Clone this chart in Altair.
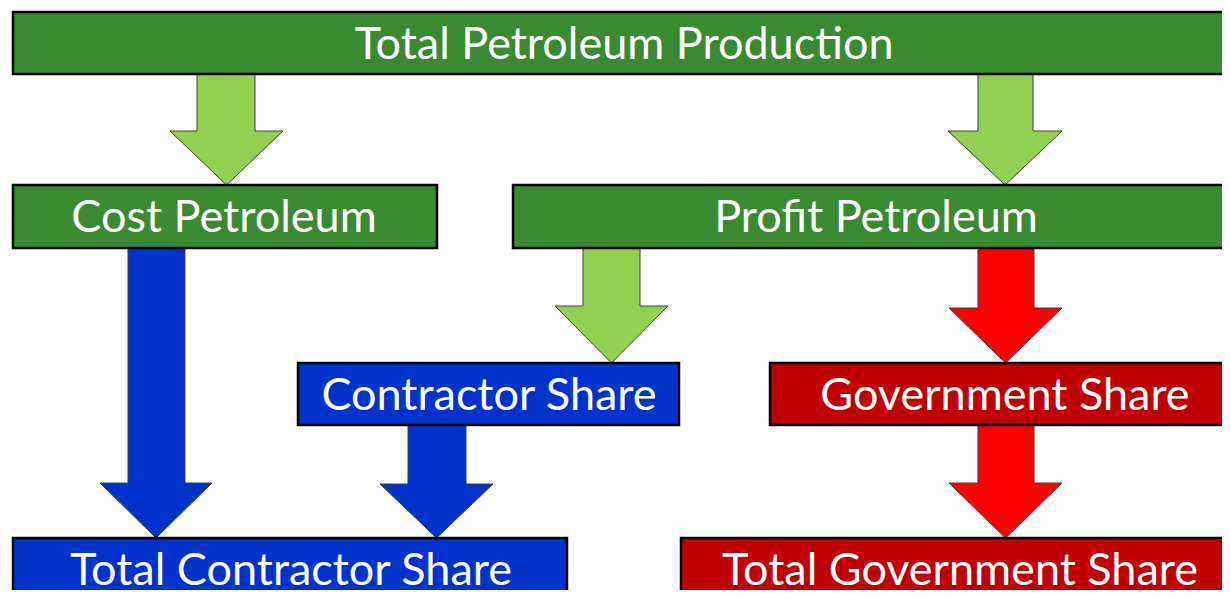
import altair as alt
import pandas as pd

# Boxes (page-pixel coordinates)
box_labels = ["Total Petroleum Production", "Cost Petroleum", "Profit Petroleum",
              "Contractor Share", "Government Share",
              "Total Contractor Share", "Total Government Share"]
box_x0 = [13, 13, 513, 298, 770, 13, 681]
box_x1 = [1228, 437, 1240, 679, 1240, 567, 1240]
box_y0 = [12, 185, 185, 363, 363, 538, 538]
box_y1 = [74, 248, 248, 425, 425, 610, 610]
box_fill = ["#3A8A32", "#3A8A32", "#3A8A32", "#0033CC", "#C00000", "#0033CC", "#C00000"]
text_x = [624, 224, 876, 489, 1005, 291, 960]
text_y = [59, 232, 232, 410, 410, 585, 585]

# Arrows
arrow_ids = ["a1", "a2", "a3", "a4", "a5", "a6", "a7"]
arrow_shaft_l = [197, 978, 128, 583, 978, 408, 978]
arrow_shaft_r = [255, 1033, 185, 640, 1034, 466, 1034]
arrow_head_l = [170, 948, 100, 555, 949, 380, 949]
arrow_head_r = [283, 1062, 212, 668, 1062, 493, 1062]
arrow_top = [70, 70, 244, 244, 244, 421, 421]
arrow_neck = [131, 131, 483, 306, 308, 484, 483]
arrow_tip = [185, 185, 538, 363, 363, 538, 538]
arrow_fill = ["#92D050", "#92D050", "#0033CC", "#92D050", "#FF0000", "#0033CC", "#FF0000"]

rows = []
for i, aid in enumerate(arrow_ids):
    c = (arrow_head_l[i] + arrow_head_r[i]) / 2
    pts = [
        (arrow_shaft_l[i], arrow_top[i]),
        (arrow_shaft_l[i], arrow_neck[i]),
        (arrow_head_l[i], arrow_neck[i]),
        (c, arrow_tip[i]),
        (arrow_head_r[i], arrow_neck[i]),
        (arrow_shaft_r[i], arrow_neck[i]),
        (arrow_shaft_r[i], arrow_top[i]),
        (arrow_shaft_l[i], arrow_top[i]),
    ]
    for k, (xx, yy) in enumerate(pts):
        rows.append({"id": aid, "x": xx, "y": yy, "ord": k, "fill": arrow_fill[i]})
arrows_df = pd.DataFrame(rows)

boxes_df = pd.DataFrame({
    "label": box_labels, "x0": box_x0, "x1": box_x1,
    "y0": box_y0, "y1": box_y1, "fill": box_fill,
    "tx": text_x, "ty": text_y,
})

xs = alt.Scale(domain=[8, 1222], nice=False, zero=False)
ys = alt.Scale(domain=[590, 8], nice=False, zero=False)

arrows = alt.Chart(arrows_df).mark_line(
    stroke="#404040", strokeWidth=1, strokeJoin="miter"
).encode(
    x=alt.X("x:Q", scale=xs, axis=None),
    y=alt.Y("y:Q", scale=ys, axis=None),
    order="ord:Q",
    detail="id:N",
    fill=alt.Fill("fill:N", scale=None),
)

boxes = alt.Chart(boxes_df).mark_rect(stroke="black", strokeWidth=2.5).encode(
    x=alt.X("x0:Q", scale=xs, axis=None),
    x2="x1:Q",
    y=alt.Y("y0:Q", scale=ys, axis=None),
    y2="y1:Q",
    color=alt.Color("fill:N", scale=None),
)

texts = alt.Chart(boxes_df).mark_text(
    font="Lato", fontSize=45, color="white", align="center", baseline="alphabetic"
).encode(
    x=alt.X("tx:Q", scale=xs, axis=None),
    y=alt.Y("ty:Q", scale=ys, axis=None),
    text="label:N",
)

chart = alt.layer(arrows, boxes, texts).properties(
    width=1214, height=582, padding=0,
    autosize=alt.AutoSizeParams(type="none"),
).configure_view(stroke=None)

chart.save("out.html", embed_options={"renderer": "svg", "actions": False})
